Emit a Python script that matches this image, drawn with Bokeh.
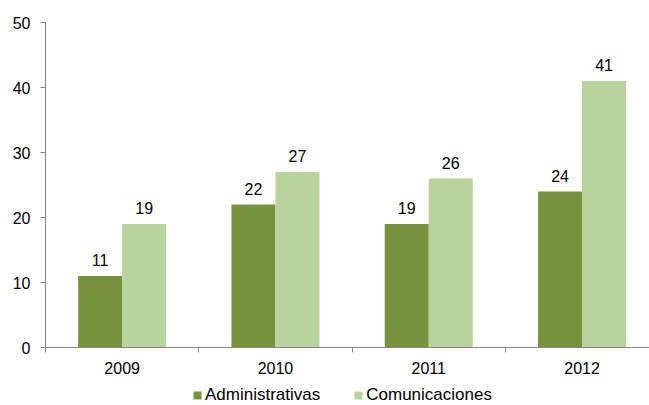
import numpy as np
from bokeh.plotting import figure
from bokeh.layouts import column
from bokeh.models import (Range1d, FixedTicker, CustomJSTickFormatter, Legend, LegendItem,
                          ColumnDataSource)
from bokeh.core.properties import value
from bokeh.embed import file_html
from bokeh.resources import INLINE

years = ["2009", "2010", "2011", "2012"]
administrativas = [11, 22, 19, 24]
comunicaciones = [19, 27, 26, 41]
series_names = ["Administrativas", "Comunicaciones"]
y_ticks = [0, 10, 20, 30, 40, 50]

DARK = "#76923C"
LIGHT = "#B8D49C"
AXIS = "#868686"
FONT = "Liberation Sans"
W = 649
LEFT = 45

centers = np.arange(len(years)) + 0.5
bw = 0.287
off = bw / 2

src = ColumnDataSource(dict(
    xa=centers - off, xc=centers + off,
    a=administrativas, c=comunicaciones,
    la=[str(v) for v in administrativas], lc=[str(v) for v in comunicaciones],
))

p = figure(width=W, height=376, output_backend="svg", toolbar_location=None,
           x_range=Range1d(0, (W - LEFT) / 153.3), y_range=Range1d(0, 50),
           min_border_left=LEFT, min_border_right=0, min_border_top=22, min_border_bottom=0)
p.outline_line_color = None
p.xgrid.visible = False
p.ygrid.visible = False

p.vbar(x="xa", top="a", width=bw, bottom=0, source=src, fill_color=DARK, line_color=None)
p.vbar(x="xc", top="c", width=bw, bottom=0, source=src, fill_color=LIGHT, line_color=None)

for xcol, ycol, lcol in (("xa", "a", "la"), ("xc", "c", "lc")):
    p.text(x=xcol, y=ycol, text=lcol, source=src, text_align="center", text_baseline="bottom",
           y_offset=-10, text_font=value(FONT), text_font_size="16px", text_color="#000000")

# y axis
ya = p.yaxis[0]
ya.ticker = FixedTicker(ticks=y_ticks, minor_ticks=[])
ya.axis_line_color = AXIS
ya.major_tick_line_color = AXIS
ya.major_tick_out = 5
ya.major_tick_in = 0
ya.minor_tick_line_color = None
ya.major_label_standoff = 10
ya.major_label_text_font = FONT
ya.major_label_text_font_size = "16px"
ya.major_label_text_color = "#000000"

# x axis
xa = p.xaxis[0]
xa.ticker = FixedTicker(ticks=list(centers), minor_ticks=list(range(len(years) + 1)))
xa.formatter = CustomJSTickFormatter(args=dict(labels=years),
                                     code="return labels[Math.floor(tick)];")
xa.axis_line_color = AXIS
xa.major_tick_line_color = None
xa.major_tick_out = 0
xa.major_tick_in = 0
xa.minor_tick_line_color = AXIS
xa.minor_tick_out = 5
xa.minor_tick_in = 0
xa.major_label_standoff = 9
xa.major_label_text_font = FONT
xa.major_label_text_font_size = "16px"
xa.major_label_text_color = "#000000"

# legend strip (its bars lie outside its visible range; only the legend shows)
p2 = figure(width=W, height=29, output_backend="svg", toolbar_location=None,
            x_range=Range1d(0, 1), y_range=Range1d(1000, 1001),
            x_axis_location=None, y_axis_location=None,
            min_border_left=LEFT, min_border_right=0, min_border_top=0, min_border_bottom=0)
p2.outline_line_color = None
p2.xgrid.visible = False
p2.ygrid.visible = False
d1 = p2.vbar(x="xa", top="a", width=bw, bottom=0, source=src, fill_color=DARK, line_color=None)
d2 = p2.vbar(x="xc", top="c", width=bw, bottom=0, source=src, fill_color=LIGHT, line_color=None)

legend = Legend(items=[LegendItem(label=series_names[0], renderers=[d1]),
                       LegendItem(label=series_names[1], renderers=[d2])],
                orientation="horizontal", location=(192 - LEFT, 0),
                glyph_width=10, glyph_height=10, label_standoff=3, spacing=33,
                padding=0, margin=0, label_height=16,
                label_text_font=FONT, label_text_font_size="17px",
                label_text_color="#000000", border_line_color=None,
                background_fill_alpha=0)
p2.add_layout(legend, "center")

open("out.html", "w").write(file_html(column(p, p2, spacing=0), INLINE))
